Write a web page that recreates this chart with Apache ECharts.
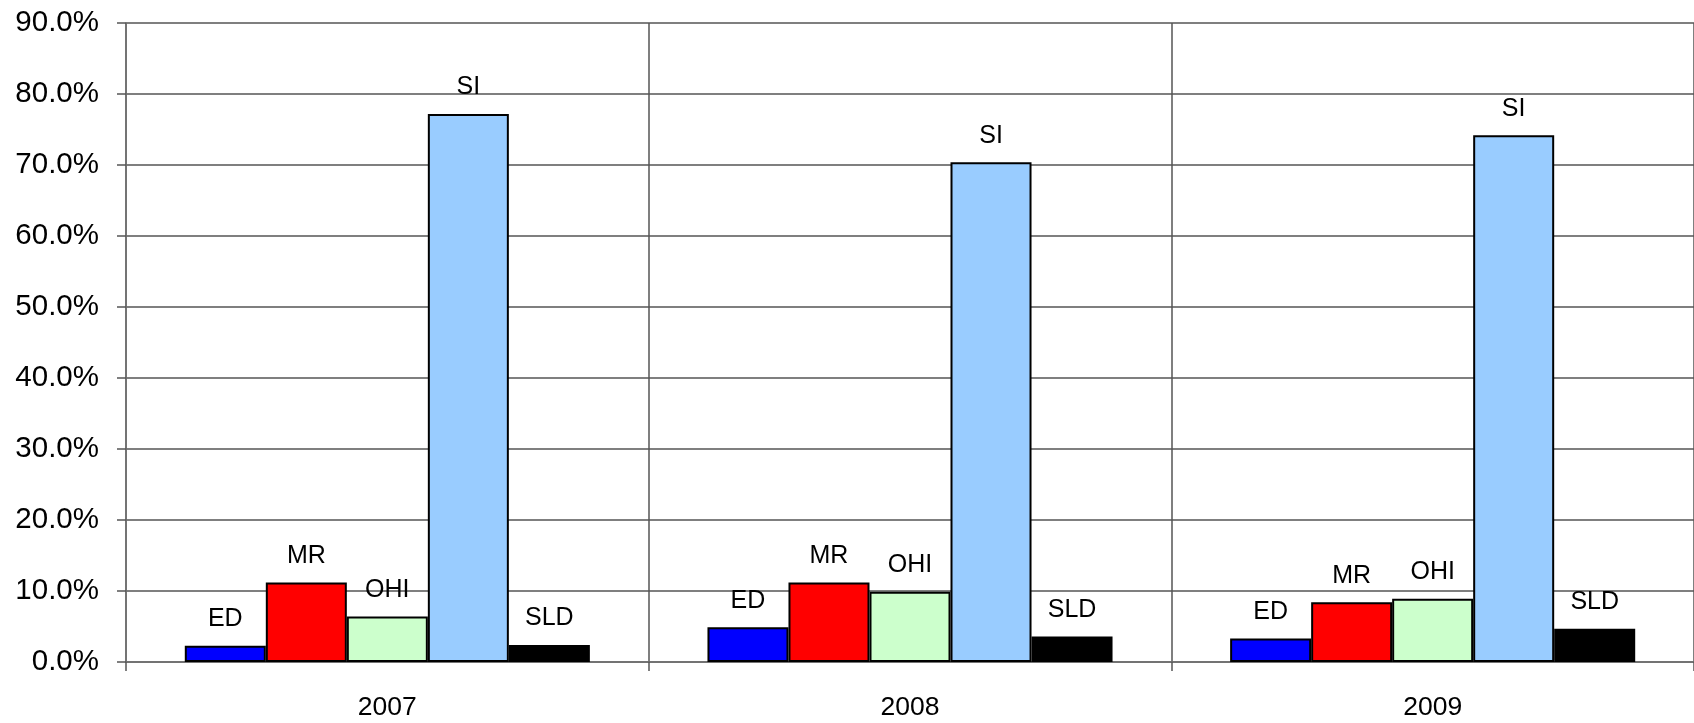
<!DOCTYPE html>
<html>
<head>
<meta charset="utf-8">
<script src="https://cdn.jsdelivr.net/npm/echarts@6/dist/echarts.min.js"></script>
<style>
html,body{margin:0;padding:0;background:#fff;}
#chart{width:1694px;height:723px;}
</style>
</head>
<body>
<div id="chart"></div>
<script>
const categories = ['2007', '2008', '2009'];
const seriesNames = ['ED', 'MR', 'OHI', 'SI', 'SLD'];
const ED = [2.3, 4.9, 3.3];
const MR = [11.2, 11.2, 8.4];
const OHI = [6.4, 9.9, 8.9];
const SI = [77.2, 70.4, 74.2];
const SLD = [2.4, 3.6, 4.7];
const yTicks = [0, 10, 20, 30, 40, 50, 60, 70, 80, 90];
const colors = ['#0000FF', '#FF0000', '#CCFFCC', '#99CCFF', '#000000'];
const values = [ED, MR, OHI, SI, SLD];

const chart = echarts.init(document.getElementById('chart'), null, {renderer: 'canvas'});
const font = '"Liberation Sans", Arial, sans-serif';
chart.setOption({
  animation: false,
  backgroundColor: '#ffffff',
  grid: {left: 126, right: 0, top: 23, bottom: 61, containLabel: false},
  xAxis: {
    type: 'category',
    data: categories,
    axisLine: {lineStyle: {color: '#707070', width: 1.5}},
    axisTick: {show: true, alignWithLabel: false, length: 9, lineStyle: {color: '#555', width: 1.5}},
    axisLabel: {color: '#000', fontSize: 26.5, fontFamily: font, margin: 32},
    splitLine: {show: true, lineStyle: {color: '#555', width: 1.5}}
  },
  yAxis: {
    type: 'value',
    min: yTicks[0],
    max: yTicks[yTicks.length - 1],
    interval: 10,
    axisLine: {show: true, lineStyle: {color: '#707070', width: 1.5}},
    axisTick: {show: true, length: 9, lineStyle: {color: '#555', width: 1.5}},
    axisLabel: {color: '#000', fontSize: 29.5, fontFamily: font, margin: 27,
      formatter: v => v.toFixed(1) + '%'},
    splitLine: {show: true, lineStyle: {color: '#555', width: 1.5}}
  },
  series: seriesNames.map((name, i) => ({
    name: name,
    type: 'bar',
    data: values[i],
    barGap: '0%',
    barCategoryGap: '22.5%',
    itemStyle: {color: colors[i], borderColor: '#000', borderWidth: 2},
    label: {show: true, position: 'top', distance: 14, formatter: '{a}',
      color: '#000', fontSize: 25, fontFamily: font}
  }))
});
</script>
</body>
</html>
